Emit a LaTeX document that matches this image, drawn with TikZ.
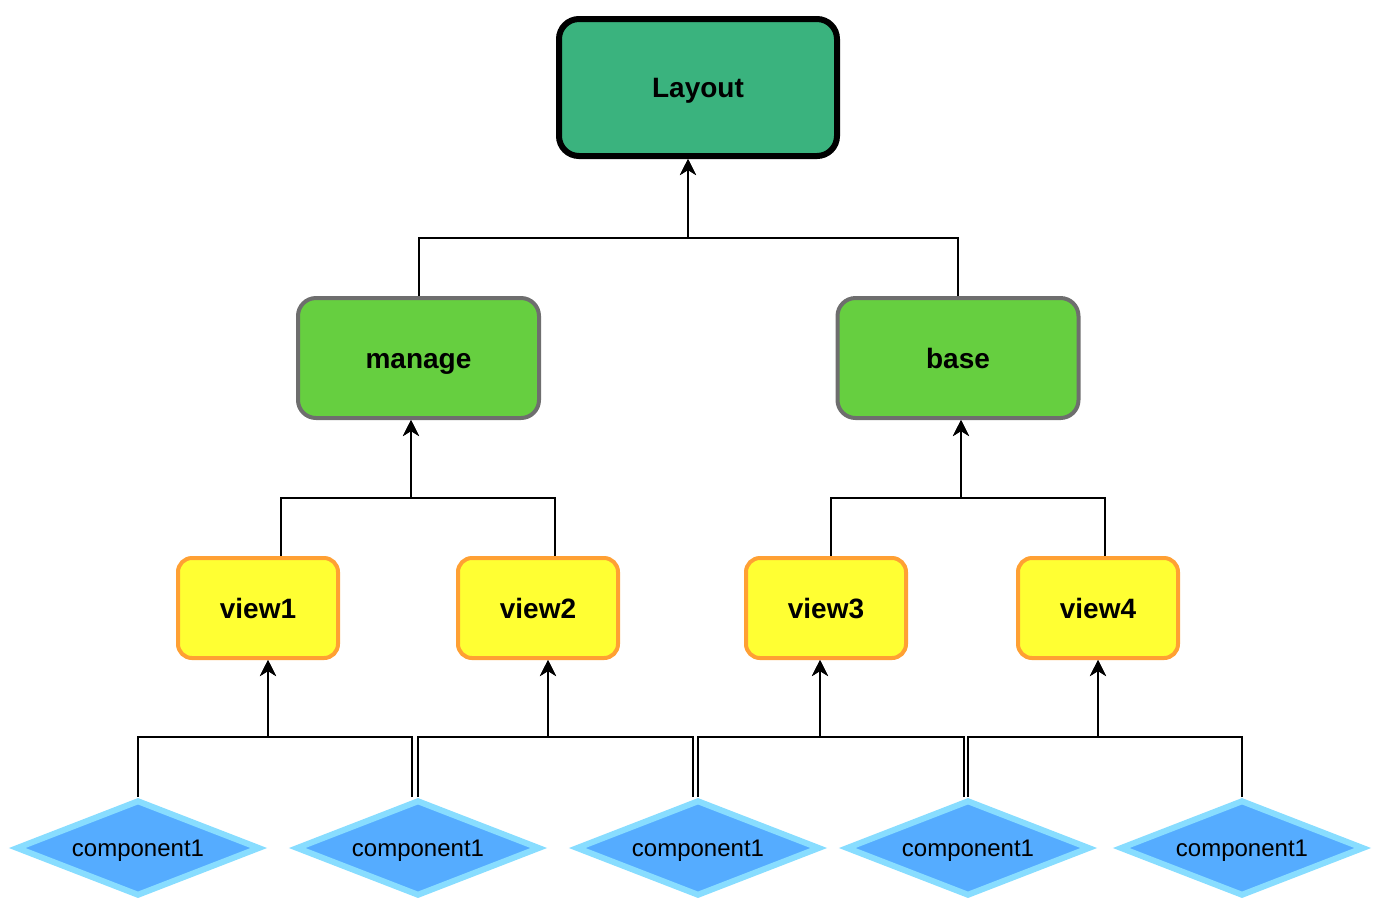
\documentclass[tikz,border=0pt]{standalone}
\usepackage{fontspec}
\setmainfont{Liberation Sans}
\usetikzlibrary{arrows.meta,shapes.geometric}
\definecolor{RootGreen}{HTML}{3AB37E}
\definecolor{MidGreen}{HTML}{66CF40}
\definecolor{MidGray}{HTML}{6E6E6E}
\definecolor{ViewYellow}{HTML}{FFFF33}
\definecolor{ViewOrange}{HTML}{FFA033}
\definecolor{CompBlue}{HTML}{55ACFF}
\definecolor{CompEdge}{HTML}{88DDFF}

\begin{document}
\begin{tikzpicture}[
    x=0.5pt, y=-0.5pt,
    >={Stealth[length=8pt,width=8pt,inset=2.5pt]},
    boxtext/.style={font=\bfseries\fontsize{14}{16}\selectfont, text height=10pt, text depth=0pt},
    rootbox/.style={boxtext, draw=black, line width=3pt, fill=RootGreen, rounded corners=10pt, minimum width=139pt, minimum height=68.5pt},
    midbox/.style={boxtext, draw=MidGray, line width=2pt, fill=MidGreen, rounded corners=9pt, minimum width=120.5pt, minimum height=60pt},
    viewbox/.style={boxtext, draw=ViewOrange, line width=2pt, fill=ViewYellow, rounded corners=7pt, minimum width=80pt, minimum height=50pt},
    compdiamond/.style={diamond, aspect=2.5, draw=CompEdge, line width=3pt, fill=CompBlue, inner sep=0pt, minimum width=122pt, minimum height=48pt, font=\fontsize{12}{14}\selectfont, text height=8.6pt, text depth=0pt},
    link/.style={->, line width=1pt}
]
\useasboundingbox (0,0) rectangle (1382,918);

\node[rootbox] (layout) at (698,87.5) {Layout};

\node[midbox] (manage) at (418.5,358) {manage};
\node[midbox] (base) at (958,358) {base};

\node[viewbox] (view1) at (258,608) {view1};
\node[viewbox] (view2) at (538,608) {view2};
\node[viewbox] (view3) at (826,608) {view3};
\node[viewbox] (view4) at (1098,608) {view4};

\node[compdiamond] (comp1) at (138,848) {component1};
\node[compdiamond] (comp2) at (418,848) {component1};
\node[compdiamond] (comp3) at (698,848) {component1};
\node[compdiamond] (comp4) at (968,848) {component1};
\node[compdiamond] (comp5) at (1242,848) {component1};

% components -> views
\draw[link] (comp1.north) -- ++(0,-60) -| ([xshift=5pt]view1.south);
\draw[link] ([xshift=-3pt]comp2.north) -- ++(0,-60) -| ([xshift=5pt]view1.south);
\draw[link] (comp2.north) -- ++(0,-60) -| ([xshift=5pt]view2.south);
\draw[link] ([xshift=-2.5pt]comp3.north) -- ++(0,-60) -| ([xshift=5pt]view2.south);
\draw[link] (comp3.north) -- ++(0,-60) -| ([xshift=-3pt]view3.south);
\draw[link] ([xshift=-2pt]comp4.north) -- ++(0,-60) -| ([xshift=-3pt]view3.south);
\draw[link] (comp4.north) -- ++(0,-60) -| (view4.south);
\draw[link] (comp5.north) -- ++(0,-60) -| (view4.south);

% views -> manage / base
\draw[link] ([xshift=11.5pt]view1.north) -- ++(0,-58) -| ([xshift=-3.75pt]manage.south);
\draw[link] ([xshift=8.5pt]view2.north) -- ++(0,-58) -| ([xshift=-3.75pt]manage.south);
\draw[link] ([xshift=2.5pt]view3.north) -- ++(0,-58) -| ([xshift=1.5pt]base.south);
\draw[link] ([xshift=3.5pt]view4.north) -- ++(0,-58) -| ([xshift=1.5pt]base.south);

% manage / base -> Layout
\draw[link] (manage.north) -- ++(0,-58) -| ([xshift=-5pt]layout.south);
\draw[link] (base.north) -- ++(0,-58) -| ([xshift=-5pt]layout.south);
\end{tikzpicture}
\end{document}
